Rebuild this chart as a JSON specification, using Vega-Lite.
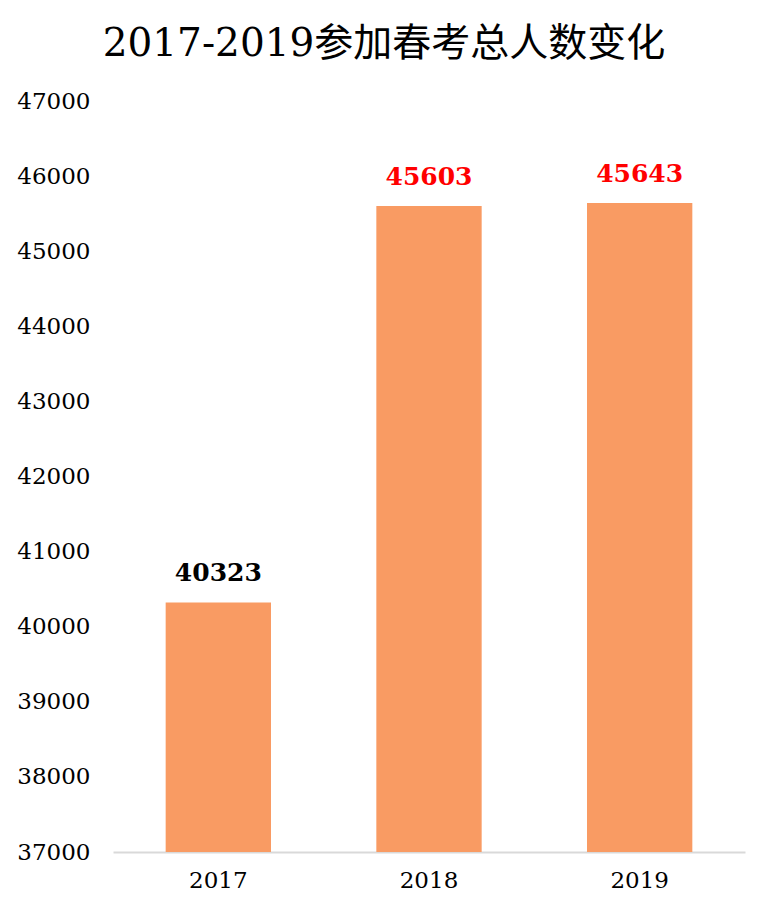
{
  "$schema": "https://vega.github.io/schema/vega-lite/v6.json",
  "width": 632,
  "height": 751,
  "autosize": {"type": "none"},
  "padding": {"left": 113, "top": 101, "right": 23, "bottom": 58},
  "background": "white",
  "title": {
    "text": "2017-2019参加春考总人数变化",
    "font": "DejaVu Serif, Noto Sans CJK SC",
    "fontSize": 39,
    "fontWeight": "normal",
    "color": "#000000",
    "anchor": "middle",
    "frame": "group",
    "dx": -45,
    "offset": 26
  },
  "data": {
    "values": [
      {"year": "2017", "total": 40323},
      {"year": "2018", "total": 45603},
      {"year": "2019", "total": 45643}
    ]
  },
  "config": {"view": {"stroke": null}},
  "encoding": {
    "x": {
      "field": "year",
      "type": "nominal",
      "sort": null,
      "scale": {"paddingInner": 0.5, "paddingOuter": 0.25},
      "axis": {
        "title": null,
        "labelAngle": 0,
        "labelFont": "DejaVu Serif",
        "labelFontSize": 23,
        "labelColor": "#000000",
        "labelPadding": 17,
        "ticks": false,
        "domainColor": "#d9d9d9",
        "domainWidth": 2,
        "grid": false
      }
    },
    "y": {
      "field": "total",
      "type": "quantitative",
      "scale": {"domain": [37000, 47000], "nice": false, "zero": false},
      "axis": {
        "title": null,
        "values": [37000, 38000, 39000, 40000, 41000, 42000, 43000, 44000, 45000, 46000, 47000],
        "format": "d",
        "labelFont": "DejaVu Serif",
        "labelFontSize": 23,
        "labelColor": "#000000",
        "labelPadding": 23,
        "ticks": false,
        "domain": false,
        "grid": false
      }
    }
  },
  "layer": [
    {
      "mark": {"type": "bar", "color": "#F99B63", "clip": true}
    },
    {
      "mark": {
        "type": "text",
        "font": "DejaVu Serif",
        "fontSize": 25,
        "fontWeight": "bold",
        "baseline": "alphabetic",
        "dy": -21
      },
      "encoding": {
        "text": {"field": "total", "type": "quantitative", "format": "d"},
        "color": {
          "condition": {"test": "datum.year == '2017'", "value": "#000000"},
          "value": "#FF0000"
        }
      }
    }
  ]
}
